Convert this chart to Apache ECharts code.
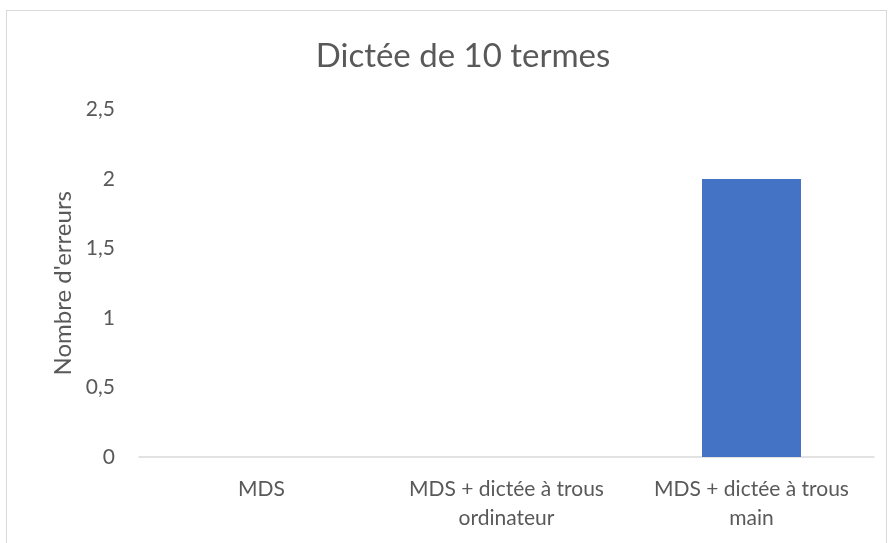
<!DOCTYPE html>
<html><head><meta charset="utf-8">
<script src="https://cdn.jsdelivr.net/npm/echarts@6/dist/echarts.min.js"></script>
<style>
html,body{margin:0;padding:0;background:#fff;}
#frame{position:absolute;left:6px;top:10px;width:881px;height:540px;border:1px solid #d9d9d9;box-sizing:border-box;}
#main{position:absolute;left:0;top:0;width:890px;height:543px;}
</style></head>
<body><div id="frame"></div><div id="main"></div>
<script>
const titleText = "Dictée de 10 termes";
const yAxisName = "Nombre d'erreurs";
const categories = ["MDS", "MDS + dictée à trous\nordinateur", "MDS + dictée à trous\nmain"];
const values = [0, 0, 2];
const yMin = 0, yMax = 2.5, yStep = 0.5;

const chart = echarts.init(document.getElementById('main'), null, {renderer:'canvas'});
const font = 'Lato, "Liberation Sans", sans-serif';
chart.setOption({
  backgroundColor: 'transparent',
  animation: false,
  title: {
    text: titleText, left: 458, top: 35, textAlign: 'center',
    textStyle: {fontFamily: font, fontSize: 33, fontWeight: 'normal', color: '#595959'}
  },
  grid: {left: 139, right: 16, top: 109.5, bottom: 86, containLabel: false},
  xAxis: {
    type: 'category', data: categories,
    axisLine: {show: true, lineStyle: {color: '#d9d9d9', width: 1.5}},
    axisTick: {show: false},
    axisLabel: {fontFamily: font, fontSize: 21, color: '#595959', margin: 18, lineHeight: 29, interval: 0}
  },
  yAxis: {
    type: 'value', min: yMin, max: yMax, interval: yStep,
    name: yAxisName, nameLocation: 'middle', nameGap: 64, nameRotate: 90,
    nameTextStyle: {fontFamily: font, fontSize: 24, color: '#595959'},
    axisLine: {show: false}, axisTick: {show: false},
    splitLine: {show: false},
    axisLabel: {fontFamily: font, fontSize: 21, color: '#595959', margin: 24,
      formatter: v => String(v).replace('.', ',')}
  },
  series: [{
    type: 'bar', data: values, barWidth: '40.4%',
    itemStyle: {color: '#4472c4'}
  }]
});
</script></body></html>
